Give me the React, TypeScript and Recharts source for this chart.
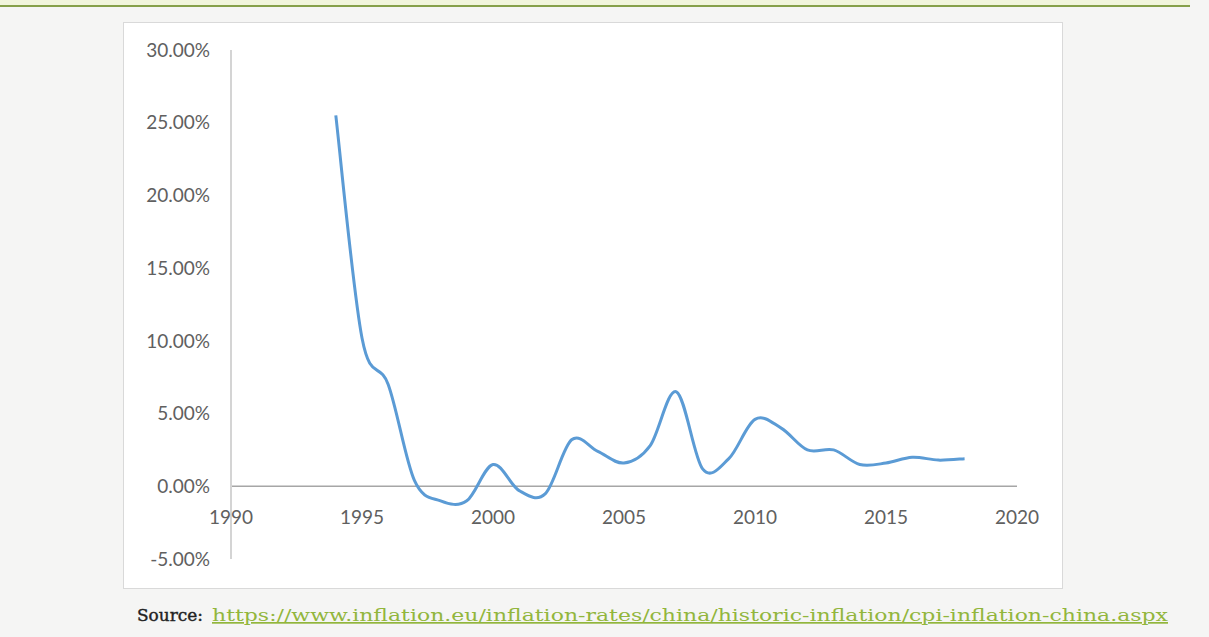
import React from "react";
import { LineChart, Line, XAxis, YAxis, ReferenceLine } from "recharts";

const years = [
  1994, 1995, 1996, 1997, 1998, 1999, 2000, 2001, 2002, 2003, 2004, 2005, 2006,
  2007, 2008, 2009, 2010, 2011, 2012, 2013, 2014, 2015, 2016, 2017, 2018,
];
const inflation = [
  25.5, 10.2, 7.0, 0.4, -1.0, -1.0, 1.5, -0.3, -0.5, 3.2, 2.4, 1.6, 2.8,
  6.5, 1.2, 1.9, 4.6, 4.0, 2.5, 2.5, 1.5, 1.6, 2.0, 1.8, 1.9,
];
const xTicks = [1990, 1995, 2000, 2005, 2010, 2015, 2020];
const yTicks = [-5, 0, 5, 10, 15, 20, 25, 30];

const data = years.map((year, i) => ({ year, value: inflation[i] }));

const labelFont = "Lato, 'Open Sans', sans-serif";

// Excel-style smoothed line (Catmull-Rom through the points)
function smoothCurve(context: any) {
  let pts: [number, number][] = [];
  return {
    areaStart() {},
    areaEnd() {},
    lineStart() {
      pts = [];
    },
    point(x: number, y: number) {
      pts.push([+x, +y]);
    },
    lineEnd() {
      if (!pts.length) return;
      context.moveTo(pts[0][0], pts[0][1]);
      for (let i = 0; i < pts.length - 1; i++) {
        const p0 = pts[i - 1] || pts[i];
        const p1 = pts[i];
        const p2 = pts[i + 1];
        const p3 = pts[i + 2] || pts[i + 1];
        context.bezierCurveTo(
          p1[0] + (p2[0] - p0[0]) / 6,
          p1[1] + (p2[1] - p0[1]) / 6,
          p2[0] - (p3[0] - p1[0]) / 6,
          p2[1] - (p3[1] - p1[1]) / 6,
          p2[0],
          p2[1]
        );
      }
    },
  };
}

// x labels sit just under the zero line, not at the bottom of the plot
const YearTick = (props: any) => {
  const { x, y, payload } = props;
  return (
    <text x={x} y={y - 43} textAnchor="middle" fill="#606060" fontSize={19} fontFamily={labelFont}>
      {payload.value}
    </text>
  );
};

export default function App() {
  return (
    <div
      style={{
        position: "fixed",
        left: 0,
        top: 0,
        width: 1209,
        height: 637,
        background: "#f5f5f4",
        overflow: "hidden",
      }}
    >
      <div style={{ position: "absolute", left: 0, top: 0, width: 1190, height: 5, background: "#f1f5dc" }} />
      <div style={{ position: "absolute", left: 0, top: 5, width: 1190, height: 2, background: "#86a04a" }} />
      <div
        style={{
          position: "absolute",
          left: 123,
          top: 22,
          width: 938,
          height: 565,
          background: "#ffffff",
          border: "1px solid #d9d9d9",
        }}
      />
      <div style={{ position: "absolute", left: 0, top: 0 }}>
        <LineChart
          width={1209}
          height={637}
          data={data}
          margin={{ top: 50, right: 192, bottom: 38, left: 0 }}
        >
          <XAxis
            dataKey="year"
            type="number"
            domain={[1990, 2020]}
            ticks={xTicks}
            axisLine={false}
            tickLine={false}
            height={40}
            tick={<YearTick />}
            interval={0}
          />
          <YAxis
            type="number"
            domain={[-5, 30]}
            ticks={yTicks}
            width={231}
            axisLine={{ stroke: "#d4d4d4", strokeWidth: 2 }}
            tickLine={false}
            tickSize={0}
            tickMargin={21}
            tickFormatter={(v: number) => `${v.toFixed(2)}%`}
            tick={{ fill: "#606060", fontSize: 19, fontFamily: labelFont }}
            interval={0}
          />
          <ReferenceLine y={0} stroke="#a6a6a6" strokeWidth={1.5} />
          <Line
            type={smoothCurve as any}
            dataKey="value"
            stroke="#5b9bd5"
            strokeWidth={3}
            dot={false}
            isAnimationActive={false}
          />
        </LineChart>
      </div>
      <svg style={{ position: "absolute", left: 0, top: 0 }} width={1209} height={637}>
        <text
          x={137}
          y={621}
          fontSize={17}
          fontFamily="'DejaVu Serif', serif"
          fill="#222222"
          stroke="#222222"
          strokeWidth={0.4}
          textLength={66}
          lengthAdjust="spacingAndGlyphs"
        >
          Source:
        </text>
        <text
          x={212}
          y={621}
          fontSize={17}
          fontFamily="'DejaVu Serif', serif"
          fill="#92b63c"
          textLength={956}
          lengthAdjust="spacingAndGlyphs"
          textDecoration="underline"
        >
          https://www.inflation.eu/inflation-rates/china/historic-inflation/cpi-inflation-china.aspx
        </text>
      </svg>
    </div>
  );
}
